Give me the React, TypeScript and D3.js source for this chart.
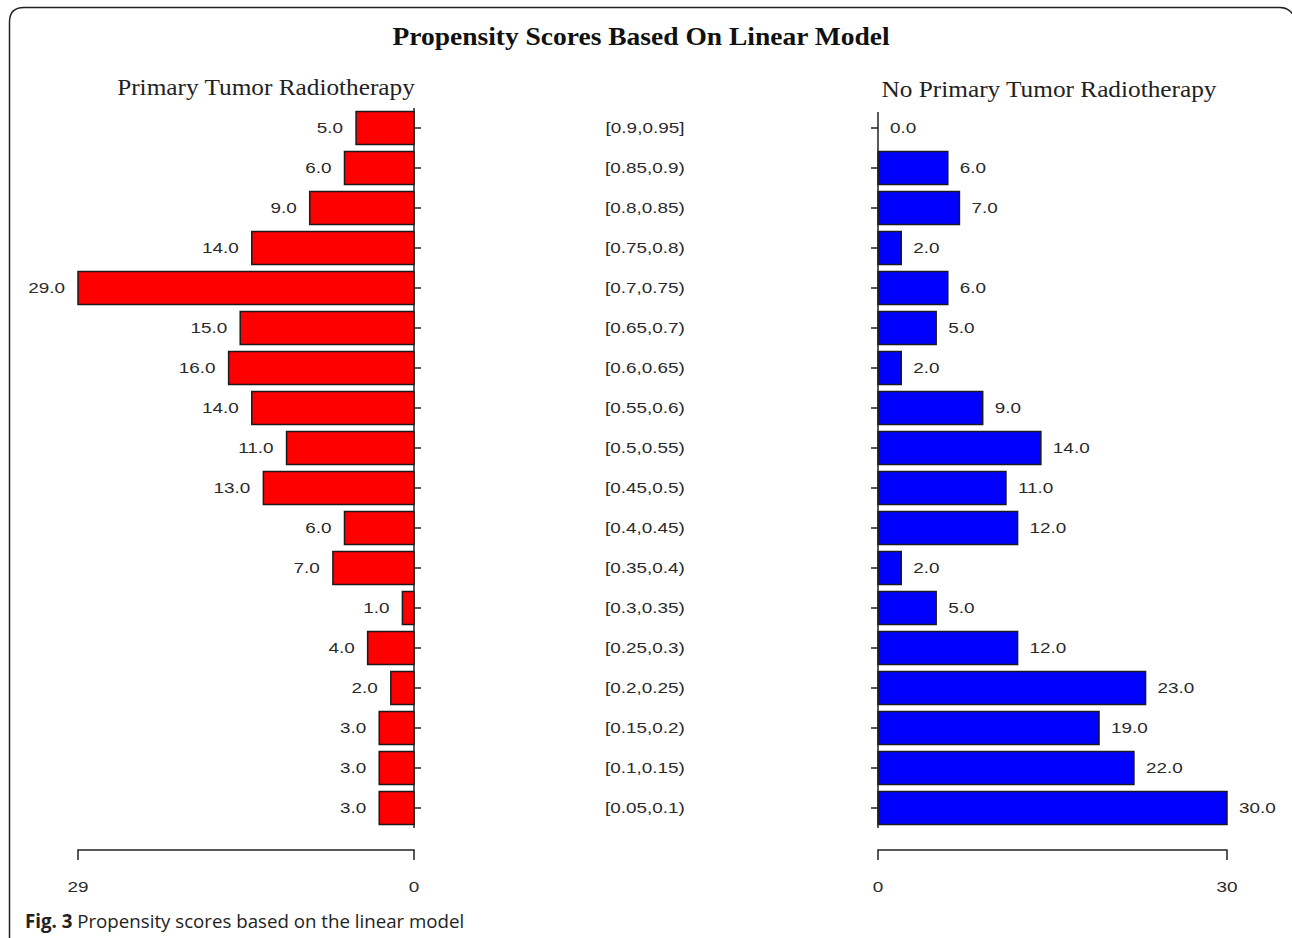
import React from "react";
import * as d3 from "d3";

const categories = [
  "[0.9,0.95]", "[0.85,0.9)", "[0.8,0.85)", "[0.75,0.8)", "[0.7,0.75)", "[0.65,0.7)",
  "[0.6,0.65)", "[0.55,0.6)", "[0.5,0.55)", "[0.45,0.5)", "[0.4,0.45)", "[0.35,0.4)",
  "[0.3,0.35)", "[0.25,0.3)", "[0.2,0.25)", "[0.15,0.2)", "[0.1,0.15)", "[0.05,0.1)",
];
const treated = [5, 6, 9, 14, 29, 15, 16, 14, 11, 13, 6, 7, 1, 4, 2, 3, 3, 3];
const control = [0, 6, 7, 2, 6, 5, 2, 9, 14, 11, 12, 2, 5, 12, 23, 19, 22, 30];
const leftTicks = [29, 0];
const rightTicks = [0, 30];

const W = 1292;
const H = 938;
const labelFont = "'Liberation Sans', Arial, sans-serif";
const serif = "'Liberation Serif', 'Times New Roman', serif";
const textColor = "#2a2a2a";
const sx = 1.35;
const sxSerif = 1.1;

export default function App() {
  const y = d3.scaleBand<string>().domain(categories).range([108, 828]).paddingInner(0.175).paddingOuter(0.0875);
  const xl = d3.scaleLinear().domain([29, 0]).range([78, 414]);
  const xr = d3.scaleLinear().domain([0, 30]).range([878, 1227]);
  const bw = y.bandwidth();
  const cy = (c: string) => (y(c) as number) + bw / 2;
  const lbl = (x: number, yy: number, t: string, anchor: string, key?: any) => (
    <text
      key={key}
      transform={`translate(${x},${yy}) scale(${sx},1)`}
      textAnchor={anchor as any}
      dominantBaseline="central"
      fontFamily={labelFont}
      fontSize={14}
      fill={textColor}
    >
      {t}
    </text>
  );
  const serifText = (x: number, yy: number, t: string, size: number, bold = false) => (
    <text
      transform={`translate(${x},${yy}) scale(${sxSerif},1)`}
      textAnchor="middle"
      fontFamily={serif}
      fontWeight={bold ? "bold" : "normal"}
      fontSize={size}
      fill={bold ? "#111" : "#222"}
    >
      {t}
    </text>
  );
  return (
    <svg width={W} height={H} style={{ position: "absolute", left: 0, top: 0, background: "#fff" }}>
      <rect width={W} height={H} fill="#fff" />
      <path d={`M9.5,${H} L9.5,22 Q9.5,7.5 24,7.5 L1280,7.5 Q1289,7.5 1294,16`} fill="none" stroke="#222" strokeWidth={1.5} />
      {serifText(641, 45, "Propensity Scores Based On Linear Model", 25, true)}
      {serifText(266, 95, "Primary Tumor Radiotherapy", 23)}
      {serifText(1049, 97, "No Primary Tumor Radiotherapy", 23)}
      {/* left bars */}
      {categories.map((c, i) => (
        <g key={"l" + c}>
          <rect x={xl(treated[i])} y={y(c)} width={xl(0) - xl(treated[i])} height={bw} fill="#ff0000" stroke="#1a1a1a" strokeWidth={1.5} />
          <line x1={xl(0)} x2={xl(0) + 7} y1={cy(c)} y2={cy(c)} stroke="#222" strokeWidth={1.5} />
          {lbl(xl(treated[i]) - 13, cy(c), treated[i].toFixed(1), "end")}
          {lbl(645, cy(c), c, "middle")}
        </g>
      ))}
      <line x1={xl(0)} x2={xl(0)} y1={108} y2={828} stroke="#222" strokeWidth={1.5} />
      {/* right bars */}
      {categories.map((c, i) => (
        <g key={"r" + c}>
          {control[i] > 0 && (
            <rect x={xr(0)} y={y(c)} width={xr(control[i]) - xr(0)} height={bw} fill="#0000ff" stroke="#1a1a1a" strokeWidth={1.5} />
          )}
          <line x1={xr(0) - 7} x2={xr(0)} y1={cy(c)} y2={cy(c)} stroke="#222" strokeWidth={1.5} />
          {lbl(xr(control[i]) + 12, cy(c), control[i].toFixed(1), "start")}
        </g>
      ))}
      <line x1={xr(0)} x2={xr(0)} y1={112} y2={828} stroke="#222" strokeWidth={1.5} />
      {/* bottom axes */}
      <path d={`M${xl(29)},860 V850 H${xl(0)} V860`} fill="none" stroke="#222" strokeWidth={1.5} />
      {leftTicks.map((t) => lbl(xl(t), 887, String(t), "middle", "lt" + t))}
      <path d={`M${xr(0)},860 V850 H${xr(30)} V860`} fill="none" stroke="#222" strokeWidth={1.5} />
      {rightTicks.map((t) => lbl(xr(t), 887, String(t), "middle", "rt" + t))}
      <text x={25} y={928} fontFamily="'Open Sans', sans-serif" fontSize={18.7} fill="#222">
        <tspan fontWeight="bold">Fig. 3</tspan> Propensity scores based on the linear model
      </text>
    </svg>
  );
}
